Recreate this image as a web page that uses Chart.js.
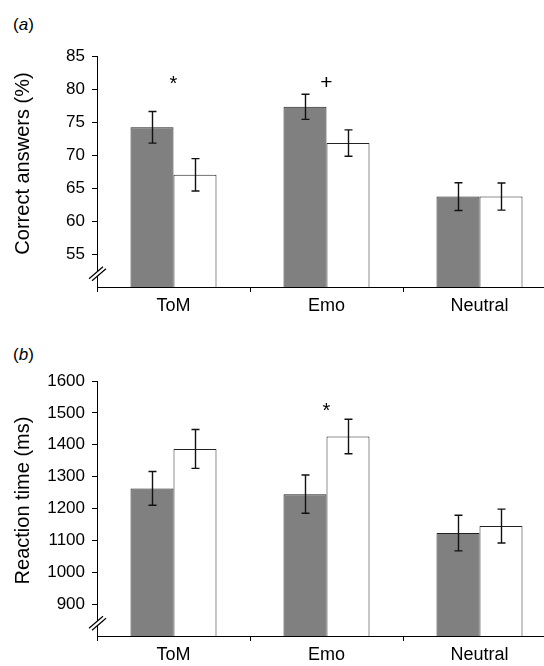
<!DOCTYPE html>
<html>
<head>
<meta charset="utf-8">
<script src="https://cdn.jsdelivr.net/npm/chart.js@4/dist/chart.umd.min.js"></script>
<style>
  html, body { margin: 0; padding: 0; overflow: hidden; background: #fff; }
  body { width: 544px; height: 666px; position: relative; font-family: "Liberation Sans", Arial, Helvetica, sans-serif; }
  .panel { position: absolute; left: 0; }
  .tag { position: absolute; left: 13px; font-size: 17px; line-height: 17px; color: #000; }
</style>
</head>
<body>
<div class="tag" style="top:15.5px">(<i>a</i>)</div>
<div class="tag" style="top:345.5px">(<i>b</i>)</div>
<canvas id="acc" class="panel" style="top:0" width="560" height="330"></canvas>
<canvas id="rt" class="panel" style="top:330px" width="560" height="336"></canvas>
<script>
const CATEGORIES = ["ToM", "Emo", "Neutral"];

// (a) correct answers (%)
const ACC_GREY = [74.2, 77.3, 63.7];
const ACC_GREY_ERR = [2.4, 1.9, 2.1];
const ACC_WHITE = [67.0, 71.8, 63.7];
const ACC_WHITE_ERR = [2.45, 2.0, 2.05];
const ACC_RANGE = [50, 85, 5];
const ACC_MARKS = [
  { cat: 0, text: "*", at: 81.3 },
  { cat: 1, text: "+", at: 81.1 },
];

// (b) reaction time (ms)
const RT_GREY = [1263, 1245, 1123];
const RT_GREY_ERR = [53, 60, 56];
const RT_WHITE = [1387, 1426, 1145];
const RT_WHITE_ERR = [61, 54, 53];
const RT_RANGE = [800, 1600, 100];
const RT_MARKS = [{ cat: 1, text: "*", at: 1518 }];

const FONT = '"Liberation Sans", Arial, Helvetica, sans-serif';
const MARK_SIZE = { "*": 20, "+": 21 };

const errorBars = {
  id: "errorBars",
  afterDatasetsDraw(chart) {
    const { ctx } = chart;
    const y = chart.scales.y;
    ctx.save();
    ctx.strokeStyle = "#111";
    ctx.lineWidth = 1.4;
    chart.data.datasets.forEach((ds, i) => {
      chart.getDatasetMeta(i).data.forEach((bar, j) => {
        const v = ds.data[j], e = ds.errors[j];
        const x = Math.round(bar.x) + 0.5;
        const top = y.getPixelForValue(v + e);
        const bot = y.getPixelForValue(v - e);
        ctx.beginPath();
        ctx.moveTo(x, top); ctx.lineTo(x, bot);
        ctx.moveTo(x - 4, top); ctx.lineTo(x + 4, top);
        ctx.moveTo(x - 4, bot); ctx.lineTo(x + 4, bot);
        ctx.stroke();
      });
    });
    ctx.restore();
  },
};

const marks = {
  id: "marks",
  afterDatasetsDraw(chart, args, opts) {
    const { ctx } = chart;
    ctx.save();
    ctx.fillStyle = "#000";
    ctx.textAlign = "center";
    ctx.textBaseline = "alphabetic";
    for (const m of opts.items || []) {
      ctx.font = `${MARK_SIZE[m.text] || 18}px ${FONT}`;
      const mt = ctx.measureText(m.text);
      const x = chart.scales.x.getPixelForValue(m.cat);
      const yc = chart.scales.y.getPixelForValue(m.at);
      ctx.fillText(m.text, x, yc + (mt.actualBoundingBoxAscent - mt.actualBoundingBoxDescent) / 2);
    }
    ctx.restore();
  },
};

// "//" break on the value axis, and the rotated axis title
const axisDecor = {
  id: "axisDecor",
  afterDraw(chart, args, opts) {
    const { ctx, chartArea } = chart;
    const y = chart.scales.y;
    const bx = chartArea.left;
    const by = y.getPixelForValue(opts.min + opts.step * 0.4);
    ctx.save();
    ctx.fillStyle = "#fff";
    ctx.beginPath();
    ctx.moveTo(bx - 8, by + 5); ctx.lineTo(bx + 6, by - 7);
    ctx.lineTo(bx + 9, by - 5); ctx.lineTo(bx - 5, by + 7);
    ctx.closePath();
    ctx.fill();
    ctx.strokeStyle = "#000";
    ctx.lineWidth = 1.2;
    ctx.beginPath();
    ctx.moveTo(bx - 8, by + 5); ctx.lineTo(bx + 6, by - 7);
    ctx.moveTo(bx - 5, by + 7); ctx.lineTo(bx + 9, by - 5);
    ctx.stroke();

    ctx.translate(23, (chartArea.top + chartArea.bottom) / 2 - 8);
    ctx.rotate(-Math.PI / 2);
    ctx.font = `20px ${FONT}`;
    ctx.fillStyle = "#000";
    ctx.textAlign = "center";
    ctx.textBaseline = "middle";
    ctx.fillText(opts.title, 0, 0);
    ctx.restore();
  },
};

function makeChart(id, { grey, greyErr, white, whiteErr, range, items, title, top, axisH }) {
  const [min, max, step] = range;
  return new Chart(document.getElementById(id), {
    type: "bar",
    data: {
      labels: CATEGORIES,
      datasets: [
        { data: grey, errors: greyErr, backgroundColor: "#808080", borderColor: "#222", borderWidth: 1 },
        { data: white, errors: whiteErr, backgroundColor: "#fff", borderColor: "#222", borderWidth: 1 },
      ],
    },
    options: {
      responsive: false,
      animation: false,
      devicePixelRatio: 1,
      layout: { padding: { top, right: 4, bottom: 0, left: 0 } },
      datasets: { bar: { categoryPercentage: 0.562, barPercentage: 1 } },
      plugins: {
        legend: { display: false },
        tooltip: { enabled: false },
        marks: { items },
        axisDecor: { min, step, title },
      },
      scales: {
        x: {
          grid: { drawOnChartArea: false, tickLength: 5, color: "#000" },
          border: { color: "#000", width: 1 },
          ticks: { color: "#000", padding: 3, font: { family: FONT, size: 18 } },
          afterFit: (s) => { s.height = axisH; },
        },
        y: {
          min, max,
          grid: {
            drawOnChartArea: false,
            tickLength: 5,
            color: (c) => (c.tick && c.tick.value === min ? "rgba(0,0,0,0)" : "#000"),
          },
          border: { color: "#000", width: 1 },
          ticks: {
            stepSize: step,
            color: "#000",
            padding: 7,
            font: { family: FONT, size: 17 },
            callback: (v) => (v === min ? "" : v),
          },
          afterFit: (s) => { s.width = 97; },
        },
      },
    },
    plugins: [errorBars, marks, axisDecor],
  });
}

makeChart("acc", {
  grey: ACC_GREY, greyErr: ACC_GREY_ERR, white: ACC_WHITE, whiteErr: ACC_WHITE_ERR,
  range: ACC_RANGE, items: ACC_MARKS, title: "Correct answers (%)", top: 56, axisH: 43,
});
makeChart("rt", {
  grey: RT_GREY, greyErr: RT_GREY_ERR, white: RT_WHITE, whiteErr: RT_WHITE_ERR,
  range: RT_RANGE, items: RT_MARKS, title: "Reaction time (ms)", top: 51, axisH: 30,
});
</script>
</body>
</html>
